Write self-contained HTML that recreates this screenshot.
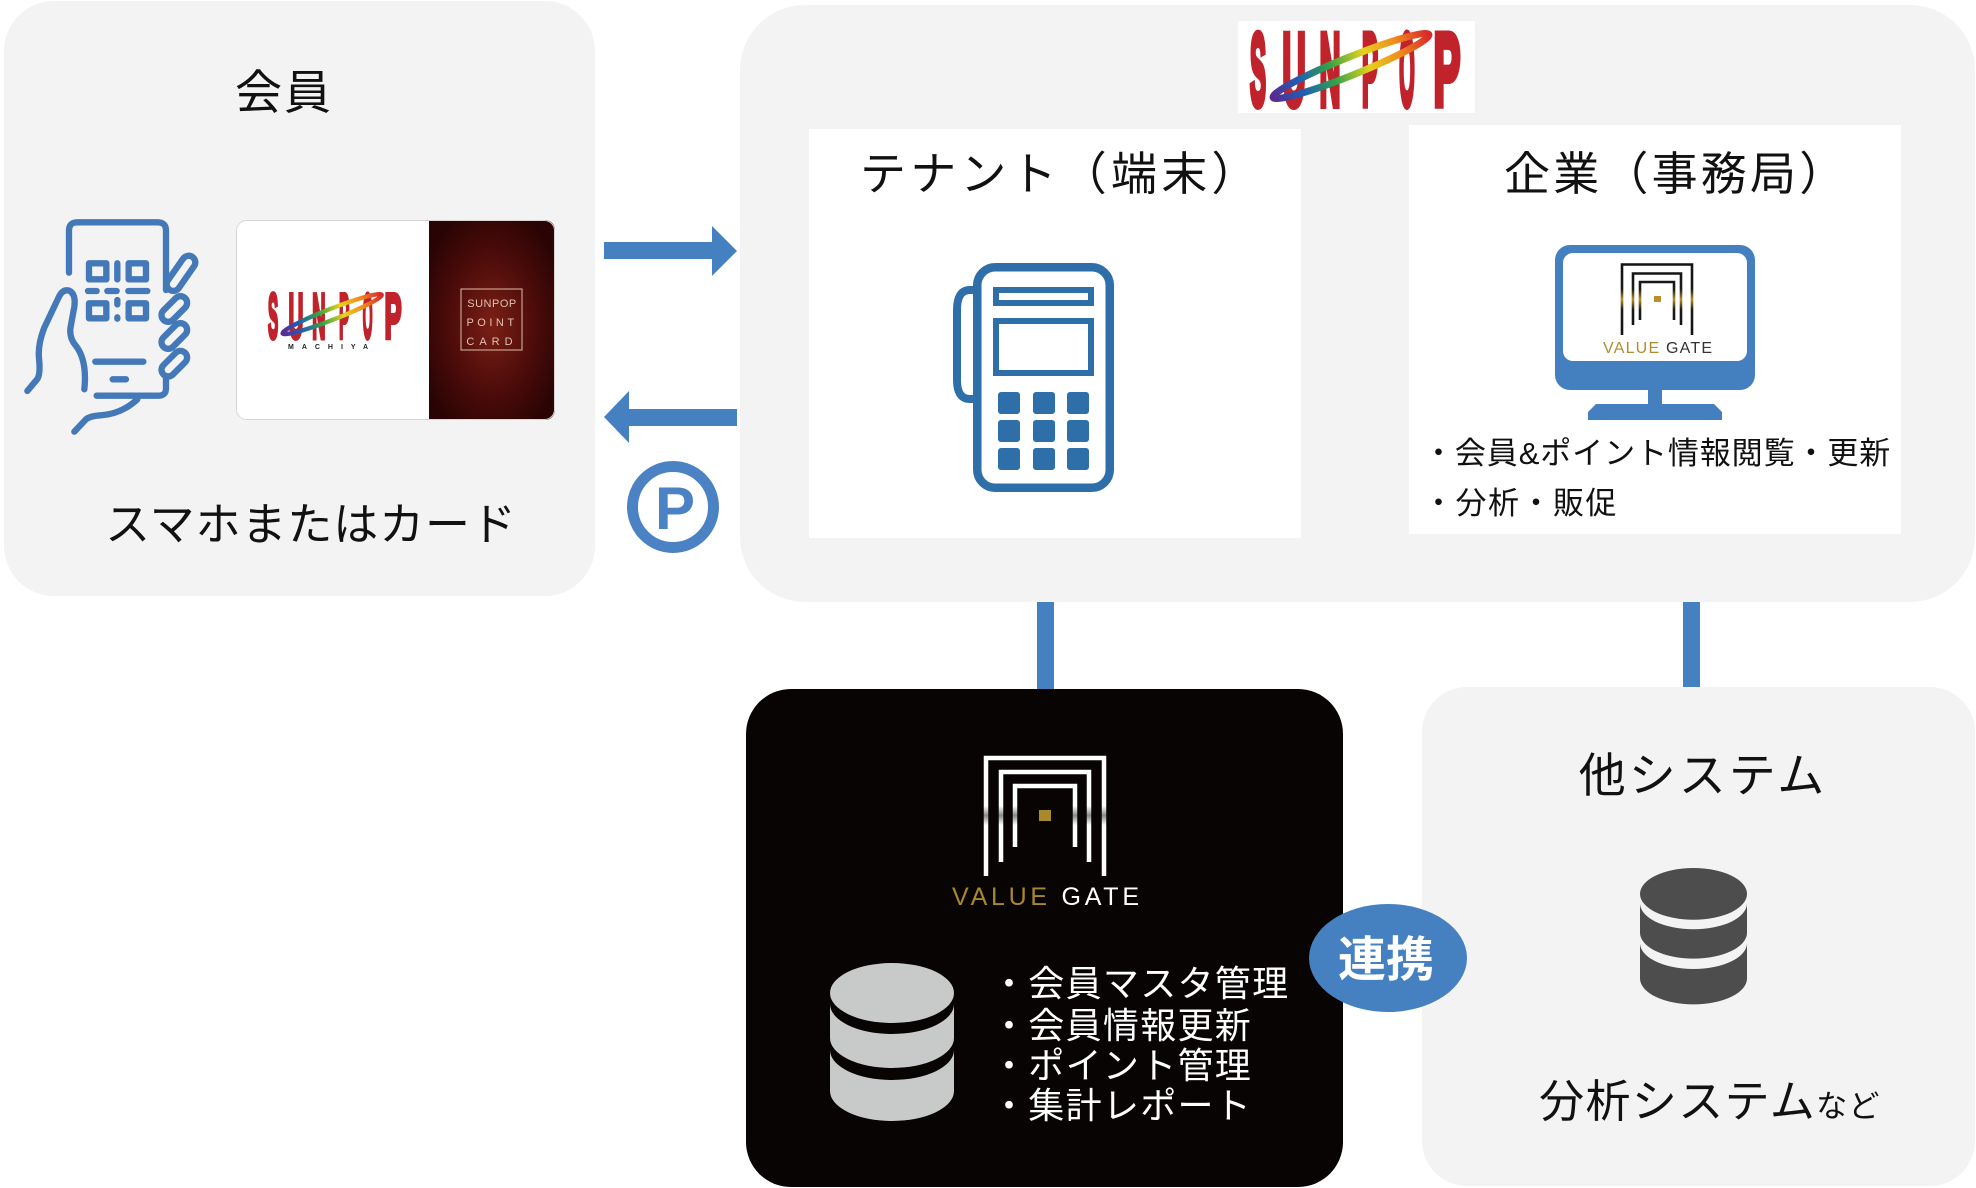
<!DOCTYPE html>
<html>
<head>
<meta charset="utf-8">
<style>
html,body{margin:0;padding:0;background:#fff;width:1976px;height:1188px;overflow:hidden;}
svg{display:block;}
.jp{font-family:"Liberation Sans","Noto Sans CJK JP",sans-serif;}
</style>
</head>
<body>
<svg width="1976" height="1188" viewBox="0 0 1976 1188" xmlns="http://www.w3.org/2000/svg" class="jp">
<defs>
  <linearGradient id="rainbow" x1="0" y1="0" x2="1" y2="0">
    <stop offset="0" stop-color="#5a2a90"/>
    <stop offset="0.18" stop-color="#1f5fb5"/>
    <stop offset="0.38" stop-color="#2fa448"/>
    <stop offset="0.6" stop-color="#e6d21c"/>
    <stop offset="0.8" stop-color="#f08a1e"/>
    <stop offset="1" stop-color="#d8282a"/>
  </linearGradient>
  <radialGradient id="cardred" cx="0.5" cy="0.52" r="0.6">
    <stop offset="0" stop-color="#7a2016"/>
    <stop offset="0.55" stop-color="#4e0c0a"/>
    <stop offset="1" stop-color="#2a0404"/>
  </radialGradient>
  <linearGradient id="silver" gradientUnits="userSpaceOnUse" x1="0" y1="755" x2="0" y2="876">
    <stop offset="0" stop-color="#ffffff"/>
    <stop offset="0.42" stop-color="#ffffff"/>
    <stop offset="0.5" stop-color="#8a8a8a"/>
    <stop offset="0.58" stop-color="#ffffff"/>
    <stop offset="1" stop-color="#ffffff"/>
  </linearGradient>
  <linearGradient id="goldband" gradientUnits="userSpaceOnUse" x1="0" y1="263" x2="0" y2="336">
    <stop offset="0" stop-color="#111"/>
    <stop offset="0.36" stop-color="#1a1a1a"/>
    <stop offset="0.5" stop-color="#b8902a"/>
    <stop offset="0.64" stop-color="#1a1a1a"/>
    <stop offset="1" stop-color="#111"/>
  </linearGradient>
  <clipPath id="cardclip"><rect x="236" y="220" width="319" height="200" rx="10"/></clipPath>
</defs>

<!-- Panels -->
<rect x="4" y="1" width="591" height="595" rx="50" fill="#f3f3f3"/>
<rect x="740" y="5" width="1235" height="597" rx="65" fill="#f3f3f3"/>
<rect x="809" y="129" width="492" height="409" fill="#ffffff"/>
<rect x="1409" y="125" width="492" height="409" fill="#ffffff"/>
<rect x="1238" y="21" width="237" height="92" fill="#ffffff"/>

<!-- connectors -->
<rect x="1037" y="602" width="17" height="87" fill="#4581c1"/>
<rect x="1683" y="602" width="17" height="86" fill="#4581c1"/>

<!-- bottom boxes -->
<rect x="746" y="689" width="597" height="498" rx="45" fill="#080404"/>
<rect x="1422" y="687" width="553" height="499" rx="45" fill="#f3f3f3"/>

<!-- arrows -->
<path d="M604,242 H712 V226 L737,251 L712,276 V259 H604 Z" fill="#4581c1"/>
<path d="M737,409 H629 V391 L604,417 L629,443 V426 H737 Z" fill="#4581c1"/>

<!-- P circle -->
<circle cx="673" cy="507" r="40.5" fill="none" stroke="#4a82c3" stroke-width="11"/>
<text x="675" y="529" font-size="60" font-weight="bold" fill="#4a82c3" text-anchor="middle" font-family="Liberation Sans, sans-serif">P</text>

<!-- Left panel texts -->
<text x="284" y="109" font-size="47" fill="#111" text-anchor="middle" letter-spacing="2">会員</text>
<text x="311" y="540" font-size="45" fill="#111" text-anchor="middle" letter-spacing="0.9">スマホまたはカード</text>

<!-- Hand / phone icon -->
<g transform="translate(20,210) scale(0.3333)" fill="none" stroke="#4479b9" stroke-width="19" stroke-linecap="round" stroke-linejoin="round">
  <path d="M147,188 V62 Q147,37 172,37 H413 Q438,37 438,62 V240"/>
  <path d="M438,495 V535 Q438,557 416,557 H230"/>
  <!-- QR -->
  <rect x="207" y="160" width="52" height="48"/>
  <rect x="326" y="160" width="52" height="48"/>
  <rect x="207" y="280" width="52" height="45"/>
  <rect x="326" y="280" width="52" height="45"/>
  <path d="M292,160 V208"/>
  <path d="M204,243 H230 M262,243 H290 M325,243 H382"/>
  <path d="M292,270 V283 M292,322 V326"/>
  <!-- bottom lines -->
  <path d="M226,455 H370"/>
  <path d="M278,508 H318"/>
  <!-- thumb & palm -->
  <path d="M22,543 L52,507 Q62,492 57,445 Q53,405 72,355 L116,262 Q128,236 148,242 Q168,252 163,290 L152,350 Q146,382 168,408 Q202,452 193,538"/>
  <path d="M163,665 L198,628 Q210,618 242,616 Q305,612 352,568"/>
  <!-- fingers -->
  <g fill="#f3f3f3">
    <rect x="-60" y="-20" width="120" height="40" rx="20" transform="translate(483,190) rotate(-55)"/>
    <rect x="-46" y="-20" width="92" height="40" rx="20" transform="translate(463,297) rotate(-45)"/>
    <rect x="-46" y="-20" width="92" height="40" rx="20" transform="translate(463,378) rotate(-45)"/>
    <rect x="-46" y="-20" width="92" height="40" rx="20" transform="translate(463,461) rotate(-45)"/>
  </g>
</g>

<!-- Card -->
<g clip-path="url(#cardclip)">
  <rect x="236" y="220" width="194" height="200" fill="#ffffff"/>
  <rect x="429" y="220" width="126" height="200" fill="url(#cardred)"/>
</g>
<rect x="236.5" y="220.5" width="318" height="199" rx="10" fill="none" stroke="#d8d4d4" stroke-width="1"/>
<rect x="461" y="289" width="61" height="61" fill="none" stroke="#c9a08e" stroke-width="1.2"/>
<g font-family="Liberation Sans, sans-serif" font-size="11" fill="#e2c2b2" text-anchor="middle">
  <text x="492" y="307" letter-spacing="0.5">SUNPOP</text>
  <text x="492" y="326" letter-spacing="3.5">POINT</text>
  <text x="492" y="345" letter-spacing="5">CARD</text>
</g>
<!-- card logo -->
<g transform="translate(268,292) scale(0.635,0.615) translate(-1250,-30)">
  <g font-family="Liberation Sans, sans-serif" font-weight="bold" font-size="32" fill="#c0232b" stroke="#c0232b" stroke-width="2.5" text-anchor="middle">
    <text transform="translate(1258,105) scale(0.75,3.2)">S</text>
    <text transform="translate(1294,105) scale(1,3.2)">U</text>
    <text transform="translate(1330,105) scale(0.9,3.2)">N</text>
    <text transform="translate(1370,105) scale(0.75,3.2)">P</text>
    <text transform="translate(1407,105) scale(0.62,3.2)">O</text>
    <text transform="translate(1447,105) scale(1.25,3.2)">P</text>
  </g>
  <ellipse cx="1351" cy="66" rx="84" ry="9" transform="rotate(-22 1351 66)" fill="none" stroke="url(#rainbow)" stroke-width="7"/>
</g>
<text x="332" y="349" font-family="Liberation Sans, sans-serif" font-size="7" font-weight="bold" fill="#222" text-anchor="middle" letter-spacing="8">MACHIYA</text>

<!-- Top SUNPOP logo -->
<g font-family="Liberation Sans, sans-serif" font-weight="bold" font-size="32" fill="#c0232b" stroke="#c0232b" stroke-width="2.5" text-anchor="middle">
  <text transform="translate(1258,105) scale(0.75,3.2)">S</text>
  <text transform="translate(1294,105) scale(1,3.2)">U</text>
  <text transform="translate(1330,105) scale(0.9,3.2)">N</text>
  <text transform="translate(1370,105) scale(0.75,3.2)">P</text>
  <text transform="translate(1407,105) scale(0.62,3.2)">O</text>
  <text transform="translate(1447,105) scale(1.25,3.2)">P</text>
</g>
<ellipse cx="1351" cy="66" rx="84" ry="9" transform="rotate(-22 1351 66)" fill="none" stroke="url(#rainbow)" stroke-width="7"/>

<!-- Tenant -->
<text x="860" y="190" font-size="46" fill="#111" letter-spacing="4.2">テナント（端末）</text>
<g fill="none" stroke="#2e6faa">
  <path d="M977,290 H970 Q957,290 957,310 V380 Q957,399 970,399 H977" stroke-width="8"/>
  <rect x="977.25" y="267.25" width="132.5" height="220.5" rx="18" stroke-width="8.5"/>
  <rect x="996" y="290" width="95" height="13" stroke-width="6"/>
  <rect x="996" y="321" width="95" height="52" stroke-width="6"/>
</g>
<g fill="#2e6faa">
  <rect x="998" y="392" width="22" height="22" rx="3"/>
  <rect x="1033" y="392" width="22" height="22" rx="3"/>
  <rect x="1067" y="392" width="22" height="22" rx="3"/>
  <rect x="998" y="420" width="22" height="22" rx="3"/>
  <rect x="1033" y="420" width="22" height="22" rx="3"/>
  <rect x="1067" y="420" width="22" height="22" rx="3"/>
  <rect x="998" y="448" width="22" height="22" rx="3"/>
  <rect x="1033" y="448" width="22" height="22" rx="3"/>
  <rect x="1067" y="448" width="22" height="22" rx="3"/>
</g>

<!-- Enterprise -->
<text x="1504" y="190" font-size="46" fill="#111" letter-spacing="3.2">企業（事務局）</text>
<rect x="1555" y="245" width="200" height="145" rx="15" fill="#4480c0"/>
<rect x="1563" y="253" width="184" height="108" rx="10" fill="#ffffff"/>
<rect x="1648" y="388" width="14" height="19" fill="#4480c0"/>
<polygon points="1588,420 1588,412 1596,404 1714,404 1722,412 1722,420" fill="#4480c0"/>
<g fill="none" stroke="url(#goldband)" stroke-width="2.6">
  <path d="M1622,335 V264.5 H1692 V335"/>
  <path d="M1633,325 V273.5 H1681 V325"/>
  <path d="M1640,320 V282 H1674 V320"/>
</g>
<rect x="1654" y="296" width="7" height="6" fill="#b8902a"/>
<text x="1603" y="353" font-size="16" font-family="Liberation Sans, sans-serif" textLength="109" lengthAdjust="spacing"><tspan fill="#b08c30">VALUE </tspan><tspan fill="#333">GATE</tspan></text>
<g font-size="31" fill="#111" letter-spacing="0.9">
  <text x="1423" y="464">・会員&amp;ポイント情報閲覧・更新</text>
  <text x="1423" y="514" letter-spacing="1.5">・分析・販促</text>
</g>

<!-- Value Gate black box -->
<g fill="none" stroke="url(#silver)" stroke-width="4.5">
  <path d="M986,876 V758 H1104 V876"/>
  <path d="M1001,862 V772 H1089 V862"/>
  <path d="M1015,847 V786 H1075 V847"/>
</g>
<rect x="1039" y="810" width="12" height="11" fill="#a88a2a"/>
<text x="952" y="905" font-size="25" font-family="Liberation Sans, sans-serif" textLength="187" lengthAdjust="spacing"><tspan fill="#a8882a">VALUE </tspan><tspan fill="#ffffff">GATE</tspan></text>

<!-- DB icon (light) -->
<g transform="translate(830,963)" fill="#c8c9c9">
  <ellipse cx="62" cy="30" rx="62" ry="30"/>
  <path d="M0,41 A62,30 0 0,0 124,41 V75 A62,30 0 0,1 0,75 Z"/>
  <path d="M0,87 A62,30 0 0,0 124,87 V128 A62,30 0 0,1 0,128 Z"/>
</g>
<g font-size="36" fill="#ffffff" letter-spacing="1.3">
  <text x="991" y="996">・会員マスタ管理</text>
  <text x="991" y="1038">・会員情報更新</text>
  <text x="991" y="1078">・ポイント管理</text>
  <text x="991" y="1118">・集計レポート</text>
</g>

<!-- Other system -->
<text x="1703" y="792" font-size="47" fill="#111" text-anchor="middle" letter-spacing="3">他システム</text>
<g transform="translate(1640,868) scale(0.863)" fill="#4d4d4d">
  <ellipse cx="62" cy="30" rx="62" ry="30"/>
  <path d="M0,41 A62,30 0 0,0 124,41 V75 A62,30 0 0,1 0,75 Z"/>
  <path d="M0,87 A62,30 0 0,0 124,87 V128 A62,30 0 0,1 0,128 Z"/>
</g>
<text x="1710" y="1117" font-size="45" fill="#111" text-anchor="middle" letter-spacing="1.4">分析システム<tspan font-size="31">など</tspan></text>

<!-- 連携 -->
<ellipse cx="1388" cy="958" rx="79" ry="54" fill="#4581c1"/>
<text x="1386" y="976" font-size="48" font-weight="bold" fill="#ffffff" text-anchor="middle">連携</text>
</svg>
</body>
</html>
